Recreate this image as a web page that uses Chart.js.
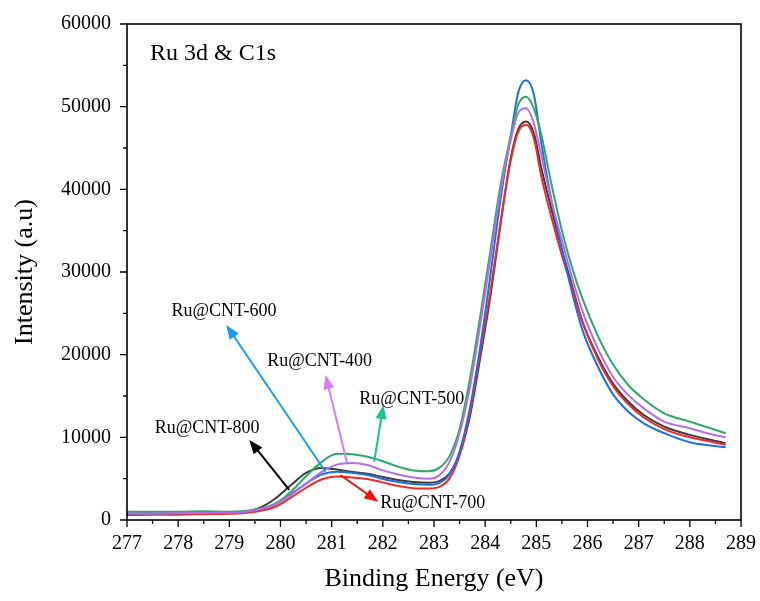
<!DOCTYPE html>
<html>
<head>
<meta charset="utf-8">
<script src="https://cdn.jsdelivr.net/npm/chart.js@4"></script>
<style>
  html, body { margin: 0; padding: 0; background: #fff; }
  #wrap { width: 760px; height: 601px; }
</style>
</head>
<body>
<div id="wrap"><canvas id="xps"></canvas></div>
<script>
// Binding energy (eV) sample points
const energy = [277, 277.5, 278, 278.5, 279, 279.3, 279.6, 279.9, 280.2, 280.5, 280.8, 281.1, 281.4, 281.7, 282, 282.3, 282.6, 282.9, 283.1, 283.3, 283.5, 283.7, 283.9, 284.1, 284.3, 284.5, 284.65, 284.8, 284.95, 285.1, 285.3, 285.5, 285.7, 285.9, 286.2, 286.5, 286.8, 287.1, 287.5, 288, 288.4, 288.7];

// Intensity (a.u) for each sample
const ru400 = [800, 800, 820, 860, 880, 1000, 1300, 1900, 3000, 4400, 5800, 6700, 6900, 6650, 6000, 5500, 5150, 5000, 5400, 7000, 10500, 16000, 23500, 31500, 39800, 46000, 49300, 49800, 48000, 44000, 38500, 33800, 29300, 25300, 20800, 17300, 15100, 13500, 11900, 11100, 10400, 10000];
const ru500 = [1000, 1000, 1000, 1050, 1000, 1100, 1350, 2000, 3400, 5300, 7000, 8000, 7950, 7650, 7100, 6450, 6000, 5900, 6300, 7700, 11000, 17000, 24500, 32500, 40500, 46500, 50300, 51200, 49800, 46500, 40500, 35000, 30500, 26800, 22300, 18800, 16300, 14600, 12900, 11900, 11100, 10500];
const ru600 = [800, 800, 820, 850, 900, 1000, 1300, 1900, 3100, 4400, 5500, 5850, 5700, 5450, 4950, 4600, 4350, 4250, 4450, 5500, 8300, 13500, 20800, 29500, 38800, 46500, 51800, 53200, 51500, 45500, 38500, 32800, 27500, 23000, 18600, 15200, 13100, 11700, 10500, 9400, 9000, 8800];
const ru700 = [600, 620, 650, 700, 750, 850, 1100, 1600, 2700, 3900, 4900, 5250, 5150, 4950, 4550, 4100, 3850, 3800, 4000, 5000, 7800, 12800, 20000, 27500, 36000, 43500, 47000, 47800, 46200, 41500, 36500, 32000, 28000, 24000, 19500, 16200, 14000, 12400, 11000, 10000, 9500, 9100];
const ru800 = [800, 800, 830, 870, 880, 1000, 1500, 2600, 4200, 5700, 6300, 6100, 5800, 5600, 5200, 4850, 4600, 4500, 4700, 5600, 8000, 12500, 19500, 27000, 35800, 43800, 47300, 48200, 46800, 42500, 37500, 32700, 28300, 24000, 19800, 16500, 14300, 12700, 11300, 10300, 9700, 9300];

const seriesNames = ['Ru@CNT-400', 'Ru@CNT-500', 'Ru@CNT-600', 'Ru@CNT-700', 'Ru@CNT-800'];
const seriesColors = ['#b36ee6', '#2ea866', '#1c6fe3', '#ee2a2a', '#3c3c3c'];

// label arrows: tail on curve, head near text (data units)
const notes = [
  { text: 'Ru@CNT-600', color: '#1a9cf5', from: [280.88, 5840], to: [278.94, 23590], at: [277.87, 25280] },
  { text: 'Ru@CNT-400', color: '#d97af7', from: [281.30, 6930], to: [280.88, 17540], at: [279.74, 19230] },
  { text: 'Ru@CNT-500', color: '#14c98c', from: [281.83, 7050], to: [282.01, 13910], at: [281.54, 14640] },
  { text: 'Ru@CNT-800', color: '#000000', from: [280.17, 3630], to: [279.39, 9680], at: [277.54, 11130] },
  { text: 'Ru@CNT-700', color: '#f01010', from: [281.17, 5440], to: [281.91, 2210], at: [281.95, 2060] }
];

const serif = 'Liberation Serif';

function toPoints(arr) {
  return energy.map((e, i) => ({ x: e, y: arr[i] }));
}

const extras = {
  id: 'extras',
  afterDatasetsDraw(chart) {
    const { ctx, chartArea: a, scales: { x, y } } = chart;
    ctx.save();
    // frame
    ctx.strokeStyle = '#000';
    ctx.lineWidth = 1.6;
    ctx.strokeRect(a.left, a.top, a.right - a.left, a.bottom - a.top);
    // ticks on bottom and left
    ctx.lineWidth = 1.3;
    ctx.beginPath();
    for (let v = 277; v <= 289.001; v += 0.5) {
      const px = x.getPixelForValue(v);
      const len = Math.abs(v - Math.round(v)) < 0.01 ? 7 : 4;
      ctx.moveTo(px, a.bottom);
      ctx.lineTo(px, a.bottom + len);
    }
    for (let v = 0; v <= 60000; v += 5000) {
      const py = y.getPixelForValue(v);
      const len = v % 10000 === 0 ? 7 : 4;
      ctx.moveTo(a.left, py);
      ctx.lineTo(a.left - len, py);
    }
    ctx.stroke();
    // title inside plot
    ctx.fillStyle = '#000';
    ctx.font = '24px "' + serif + '"';
    ctx.textBaseline = 'middle';
    ctx.textAlign = 'left';
    ctx.fillText('Ru 3d & C1s', a.left + 23, a.top + 30);
    // arrows + labels
    ctx.font = '18px "' + serif + '"';
    notes.forEach(n => {
      const x1 = x.getPixelForValue(n.from[0]), y1 = y.getPixelForValue(n.from[1]);
      const x2 = x.getPixelForValue(n.to[0]), y2 = y.getPixelForValue(n.to[1]);
      const ang = Math.atan2(y2 - y1, x2 - x1);
      const hl = 14, hw = 5.5;
      ctx.strokeStyle = n.color;
      ctx.fillStyle = n.color;
      ctx.lineWidth = 2;
      ctx.beginPath();
      ctx.moveTo(x1, y1);
      ctx.lineTo(x2 - Math.cos(ang) * hl * 0.8, y2 - Math.sin(ang) * hl * 0.8);
      ctx.stroke();
      ctx.beginPath();
      ctx.moveTo(x2, y2);
      ctx.lineTo(x2 - Math.cos(ang) * hl - Math.sin(ang) * hw, y2 - Math.sin(ang) * hl + Math.cos(ang) * hw);
      ctx.lineTo(x2 - Math.cos(ang) * hl + Math.sin(ang) * hw, y2 - Math.sin(ang) * hl - Math.cos(ang) * hw);
      ctx.closePath();
      ctx.fill();
      ctx.fillStyle = '#000';
      ctx.fillText(n.text, x.getPixelForValue(n.at[0]), y.getPixelForValue(n.at[1]));
    });
    ctx.restore();
  }
};

const chart = new Chart(document.getElementById('xps').getContext('2d'), {
  type: 'line',
  data: {
    datasets: [ru400, ru500, ru600, ru700, ru800].map((arr, i) => ({
      label: seriesNames[i],
      data: toPoints(arr),
      borderColor: seriesColors[i],
      borderWidth: 2,
      pointRadius: 0,
      fill: false,
      cubicInterpolationMode: 'monotone'
    }))
  },
  options: {
    responsive: true,
    maintainAspectRatio: false,
    animation: false,
    layout: { padding: { top: 24, right: 8, left: 0, bottom: 0 } },
    plugins: { legend: { display: false }, tooltip: { enabled: false } },
    scales: {
      x: {
        type: 'linear',
        min: 277,
        max: 289,
        grid: { display: false },
        border: { display: false },
        ticks: { stepSize: 1, color: '#000', padding: 4, maxRotation: 0, font: { family: serif, size: 20 }, callback: v => String(v) },
        title: { display: true, text: 'Binding Energy (eV)', color: '#000', font: { family: serif, size: 26 }, padding: { top: 4, bottom: 6 } },
        afterFit(s) { s.height = 81; }
      },
      y: {
        min: 0,
        max: 60000,
        grid: { display: false },
        border: { display: false },
        ticks: { stepSize: 10000, color: '#000', padding: 8, font: { family: serif, size: 20 }, callback: v => String(v) },
        title: { display: true, text: 'Intensity (a.u)', color: '#000', font: { family: serif, size: 26 }, padding: { top: 10, bottom: 4 } },
        afterFit(s) { s.width = 127; }
      }
    }
  },
  plugins: [extras]
});
</script>
</body>
</html>
